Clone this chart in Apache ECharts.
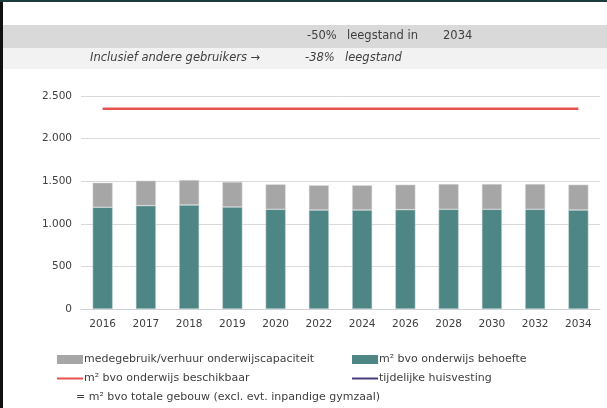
<!DOCTYPE html>
<html>
<head>
<meta charset="utf-8">
<script src="https://cdn.jsdelivr.net/npm/echarts@6/dist/echarts.min.js"></script>
<style>
  html, body { margin: 0; padding: 0; background: #fff; }
  #chart { width: 607px; height: 408px; }
</style>
</head>
<body>
<div id="chart"></div>
<script>
// jaren en waarden (m² bvo)
const years = ['2016', '2017', '2018', '2019', '2020', '2022', '2024', '2026', '2028', '2030', '2032', '2034'];
const behoefte = [1194, 1213, 1221, 1197, 1170, 1162, 1162, 1166, 1170, 1170, 1170, 1162];
const medegebruik = [288, 293, 293, 294, 293, 290, 290, 293, 297, 297, 297, 297];
const beschikbaar = [2350, 2350, 2350, 2350, 2350, 2350, 2350, 2350, 2350, 2350, 2350, 2350];
const tijdelijk = [];

const fontFam = '"DejaVu Sans", sans-serif';
const txt = '#404040';

const chart = echarts.init(document.getElementById('chart'));

// legenda-tekst
const legText = { color: txt, fontSize: 11, fontFamily: fontFam, padding: [0, 0, 0, -4] };
const legItem = { borderWidth: 0 };

const option = {
  animation: false,
  textStyle: { fontFamily: fontFam },
  grid: { left: 81, right: 7, top: 96, bottom: 99 },
  xAxis: {
    type: 'category',
    data: years,
    axisTick: { show: false },
    axisLine: { lineStyle: { color: '#d0d0d8' } },
    axisLabel: { color: txt, fontSize: 10.5, margin: 10, fontFamily: fontFam }
  },
  yAxis: {
    type: 'value',
    min: 0,
    max: 2500,
    interval: 500,
    axisLine: { show: false },
    axisTick: { show: false },
    splitLine: { lineStyle: { color: '#d9d9d9' } },
    axisLabel: {
      color: txt, fontSize: 10.5, margin: 9, fontFamily: fontFam,
      formatter: v => v.toString().replace(/\B(?=(\d{3})+(?!\d))/g, '.')
    }
  },
  legend: [
    { data: [{ name: 'medegebruik/verhuur onderwijscapaciteit', icon: 'rect' }], left: 52, top: 349,
      itemWidth: 26, itemHeight: 9, itemStyle: legItem, textStyle: legText },
    { data: [{ name: 'm² bvo onderwijs behoefte', icon: 'rect' }], left: 347, top: 349,
      itemWidth: 26, itemHeight: 9, itemStyle: legItem, textStyle: legText },
    { data: [{ name: 'm² bvo onderwijs beschikbaar', icon: 'rect' }], left: 52, top: 368,
      itemWidth: 26, itemHeight: 2, itemStyle: legItem, textStyle: legText },
    { data: [{ name: 'tijdelijke huisvesting', icon: 'rect' }], left: 347, top: 368,
      itemWidth: 26, itemHeight: 2, itemStyle: legItem, textStyle: legText }
  ],
  graphic: [
    { type: 'rect', shape: { x: 3, y: 25, width: 604, height: 23 }, style: { fill: '#d9d9d9' }, z: -10 },
    { type: 'rect', shape: { x: 3, y: 48, width: 604, height: 21 }, style: { fill: '#f2f2f2' }, z: -10 },
    { type: 'rect', shape: { x: 0, y: 0, width: 3, height: 408 }, style: { fill: '#111' } },
    { type: 'rect', shape: { x: 0, y: 0, width: 607, height: 2 }, style: { fill: '#1d3b3b' } },
    { type: 'text', left: 307, top: 30, style: { text: '-50%', fill: txt, font: '11.5px ' + fontFam } },
    { type: 'text', left: 347, top: 30, style: { text: 'leegstand in', fill: txt, font: '11.5px ' + fontFam } },
    { type: 'text', left: 443, top: 30, style: { text: '2034', fill: txt, font: '11.5px ' + fontFam } },
    { type: 'text', left: 90, top: 52, style: { text: 'Inclusief andere gebruikers →', fill: txt, font: 'italic 11.5px ' + fontFam } },
    { type: 'text', left: 305, top: 52, style: { text: '-38%', fill: txt, font: 'italic 11.5px ' + fontFam } },
    { type: 'text', left: 345, top: 52, style: { text: 'leegstand', fill: txt, font: 'italic 11.5px ' + fontFam } },
    { type: 'text', left: 76, top: 392, style: { text: '= m² bvo totale gebouw (excl. evt. inpandige gymzaal)', fill: txt, font: '11px ' + fontFam } }
  ],
  series: [
    {
      name: 'm² bvo onderwijs behoefte',
      type: 'bar',
      stack: 'totaal',
      barWidth: 20,
      data: behoefte,
      itemStyle: { color: '#4e8585', borderColor: '#c9d6d6', borderWidth: 0.5 }
    },
    {
      name: 'medegebruik/verhuur onderwijscapaciteit',
      type: 'bar',
      stack: 'totaal',
      barWidth: 20,
      data: medegebruik,
      itemStyle: { color: '#a6a6a6', borderColor: '#dcdcdc', borderWidth: 0.5 }
    },
    {
      name: 'm² bvo onderwijs beschikbaar',
      type: 'line',
      data: beschikbaar,
      symbol: 'none',
      lineStyle: { color: '#e8504d', width: 2.5 },
      itemStyle: { color: '#e8504d' }
    },
    {
      name: 'tijdelijke huisvesting',
      type: 'line',
      data: tijdelijk,
      symbol: 'none',
      lineStyle: { color: '#4b3a7a', width: 2.5 },
      itemStyle: { color: '#4b3a7a' }
    }
  ]
};

chart.setOption(option);
</script>
</body>
</html>
